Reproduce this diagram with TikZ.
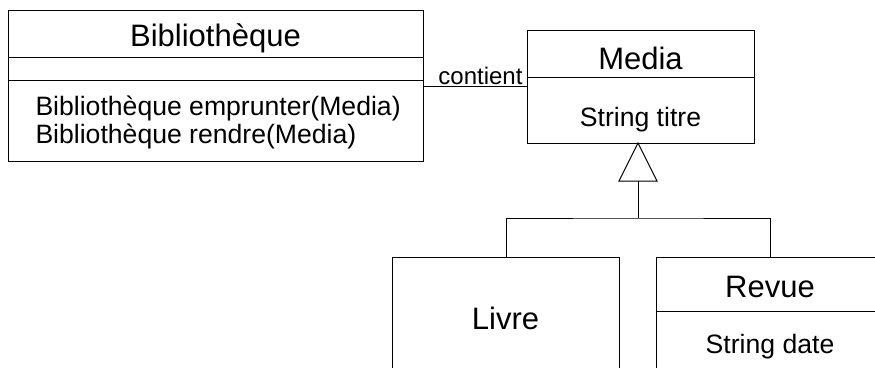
\documentclass[tikz,border=0pt]{standalone}
\usepackage{fontspec}
\setmainfont{Liberation Sans}
\usepackage{tikz}
\usetikzlibrary{calc}

\begin{document}
\begin{tikzpicture}[x=1pt,y=-1pt,line width=1pt,
  box/.style={draw,inner sep=0,anchor=north west},
  title/.style={font=\fontsize{31}{36}\selectfont,inner sep=0},
  attr/.style={font=\fontsize{26.6}{30}\selectfont,inner sep=0},
  assoc/.style={font=\fontsize{24}{28}\selectfont,inner sep=0}]
\useasboundingbox (0,0) rectangle (875,367);
\clip (0,0) rectangle (875,367);
% classes
\node[box,minimum width=415pt,minimum height=151pt] (bib) at (8,10) {};
\node[box,minimum width=227pt,minimum height=113pt] (media) at (527,30) {};
\node[box,minimum width=227pt,minimum height=160pt] (livre) at (392,257) {};
\node[box,minimum width=228pt,minimum height=160pt] (revue) at (656,257) {};
\draw (8,57)--(423,57);
\draw (8,80)--(423,80);
\draw (527,77)--(754,77);
\draw (656,311)--(884,311);
\node[title] (bibname) at (215.5,38) {Bibliothèque};
\node[attr,anchor=base west] (meth1) at (35,115) {Bibliothèque emprunter(Media)};
\node[attr,anchor=base west] (meth2) at (35,143) {Bibliothèque rendre(Media)};
\node[title] (medianame) at (640.5,58) {Media};
\node[attr] (titre) at (640.5,120) {String titre};
\node[title] (livrename) at (505.5,318) {Livre};
\node[title] (revuename) at (770,287) {Revue};
\node[attr] (date) at (770,347) {String date};
% association
\draw (bib.east) -- (bib.east -| media.west);
\node[assoc,anchor=base east] (lbl) at ($(bib.east -| media.west)+(-4,-2)$) {contient};
% inheritance
\coordinate (tip) at (638,143);
\coordinate (base) at (638,181);
\coordinate (fork) at (638,218);
\draw (tip) -- ($(base)+(-19,0)$) -- ($(base)+(19,0)$) -- cycle;
\draw (base) -- (fork);
\draw (livre.north) |- (fork) -| (revue.north);
\end{tikzpicture}
\end{document}
